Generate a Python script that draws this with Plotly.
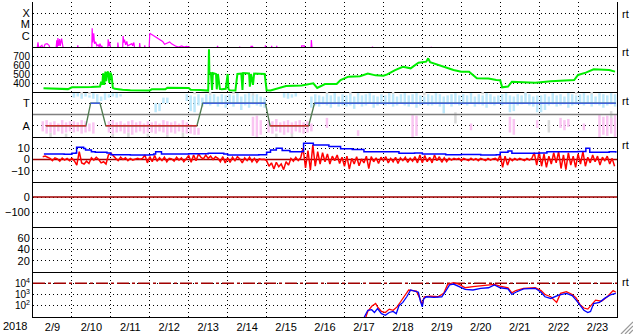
import plotly.graph_objects as go
from plotly.subplots import make_subplots

# ---------------- data (x = days since 2018-02-09 00:00 UT) ----------------
day_labels = ["2/9", "2/10", "2/11", "2/12", "2/13", "2/14", "2/15", "2/16",
              "2/17", "2/18", "2/19", "2/20", "2/21", "2/22", "2/23"]

# GOES X-ray flux, log10(W/m2)
xray_t = [0.10, 0.128, 0.15, 0.18, 0.23, 0.26, 0.31, 0.36, 0.41, 0.46, 0.59, 0.61, 0.625, 0.64, 0.66,
          0.685, 0.70, 0.735, 0.77, 0.80, 1.13, 1.15, 1.17, 1.40, 1.41, 1.43, 1.51, 1.52, 1.535, 1.56,
          1.58, 1.61, 1.64, 1.67, 1.70, 1.72, 1.75, 1.77, 1.80, 1.92, 1.93, 1.95, 1.97, 2.0, 2.17,
          2.18, 2.20, 2.30, 2.315, 2.33, 2.35, 2.38, 2.41, 2.43, 2.54, 2.56, 2.59, 2.62, 2.73, 2.74,
          2.76, 2.86, 2.87, 2.89, 2.98, 3.0, 3.03, 3.08, 3.15, 3.22, 3.28, 3.33, 3.38, 3.44, 3.51,
          3.56, 3.62, 3.68, 3.74, 3.82, 3.88, 3.94, 4.02, 4.08, 4.72, 4.74, 4.76, 5.30, 5.31, 5.32,
          5.58, 5.60, 5.64, 5.66, 5.96, 5.97, 5.99, 6.12, 6.13, 6.14, 6.25, 6.26, 6.27, 6.89, 6.90,
          6.97, 6.98, 7.14, 7.15, 7.17, 8.71, 8.72, 8.73, 10.22, 10.23, 10.25, 15.0]
xray_v = [-7.3, -6.58, -7.2, -7.0, -6.85, -7.2, -6.75, -6.7, -6.85, -7.3, -7.3, -6.4, -7.0, -6.2, -6.9,
          -6.3, -6.9, -6.25, -7.0, -7.3, -7.3, -6.85, -7.3, -7.3, -7.0, -7.3, -7.3, -5.34, -6.6, -5.78,
          -6.7, -6.55, -6.9, -6.8, -7.0, -6.7, -7.0, -6.9, -7.3, -7.3, -6.32, -6.9, -6.55, -7.3, -7.3,
          -6.6, -7.3, -7.3, -6.02, -6.6, -6.35, -6.8, -6.5, -6.9, -6.7, -6.9, -6.6, -7.3, -7.3, -6.65,
          -7.3, -7.3, -6.85, -7.3, -7.3, -5.78, -5.85, -5.95, -6.1, -6.25, -6.38, -6.5, -6.75, -6.65, -6.55,
          -6.72, -6.85, -6.95, -7.0, -6.9, -7.0, -6.95, -7.0, -7.3, -7.3, -6.9, -7.3, -7.3, -6.95, -7.3,
          -7.3, -6.95, -6.95, -7.3, -7.3, -6.85, -7.3, -7.3, -6.9, -7.3, -7.3, -6.9, -7.3, -7.3, -6.9,
          -6.9, -7.3, -7.3, -6.38, -7.3, -7.3, -6.97, -7.3, -7.3, -6.99, -7.3, -7.3]

# Solar wind speed (km/s)
speed_t = [0.27, 0.45, 0.6, 0.9, 1.0, 1.3, 1.5, 1.72, 1.75, 1.78, 1.80, 1.83, 1.86, 1.88, 1.90, 1.93,
           1.96, 1.99, 2.02, 2.05, 2.1, 2.3, 2.5, 3.0, 3.05, 3.4, 3.45, 4.0, 4.05, 4.3, 4.5, 4.52,
           4.53, 4.57, 4.60, 4.62, 4.70, 4.72, 4.75, 4.80, 4.85, 4.95, 5.0, 5.02, 5.05, 5.2, 5.25,
           5.35, 5.38, 5.40, 5.55, 5.57, 5.60, 5.65, 5.68, 5.95, 6.0, 6.1, 6.3, 6.5, 6.9, 7.2, 7.3,
           7.5, 7.8, 7.9, 8.1, 8.4, 8.6, 8.8, 9.0, 9.1, 9.3, 9.5, 9.7, 9.9, 10.1, 10.15, 10.2, 10.4,
           10.8, 11.0, 11.2, 11.4, 11.7, 11.9, 12.0, 12.05, 12.2, 12.3, 12.5, 12.9, 13.3, 13.6, 13.9,
           14.0, 14.2, 14.4, 14.8, 14.95]
speed_v = [341, 338, 330, 332, 352, 350, 355, 360, 414, 380, 508, 378, 526, 420, 508, 526,
           400, 515, 480, 345, 335, 325, 320, 318, 330, 330, 348, 345, 325, 322, 316, 774,
           515, 510, 322, 510, 500, 330, 500, 335, 330, 335, 500, 335, 320, 318, 500,
           505, 322, 510, 505, 360, 500, 380, 505, 500, 320, 318, 340, 367, 372, 396, 345,
           389, 389, 433, 470, 475, 505, 485, 480, 495, 544, 581, 563, 626, 637, 674, 630, 600,
           544, 526, 526, 452, 450, 433, 430, 352, 360, 414, 410, 404, 420, 426, 433,
           489, 515, 552, 545, 526]

# IMF sector: scattered phi measurements, 10 slots per day (hi/lo of each slot)
N = None
toward_hi = [N, N, N, N, N, N, N, N, N, N,
             1.9, 1.9, 1.8, 1.9, 1.7, 1.9, 1.8, 1.6, 1.9, 1.8,
             1.9, 1.9, 1.8, N, N, N, N, N, N, N,
             N, 1.0, 1.0, 1.5, 1.5, N, N, N, N, 1.8,
             1.7, 1.6, 1.8, 1.5, 1.8, 1.7, 1.8, 1.6, 1.8, 1.7,
             1.8, 1.7, 1.9, 1.6, 1.8, 1.9, 1.7, 1.8, 1.6, 1.5,
             N, N, N, N, 1.9, 1.9, 1.8, 1.9, N, N,
             N, 1.6, 1.8, 1.7, 1.6, 1.8, 1.7, 1.9, 1.6, 1.8,
             1.7, 1.8, 1.6, 1.9, 1.7, 1.8, 1.9, 1.7, 1.6, 1.8,
             1.7, 1.9, 1.8, 1.6, 1.8, 1.9, 1.7, 1.8, 1.9, 1.7,
             1.6, 1.8, 1.7, 1.9, 1.8, 1.6, 1.7, 1.8, 1.9, 1.7,
             1.8, 1.7, 1.9, 1.6, 1.8, 1.7, 1.9, 1.8, 1.6, 1.7,
             1.8, 1.9, 1.7, 1.6, 1.8, 1.7, 1.9, 1.8, 1.6, 1.7,
             1.7, 1.8, 1.6, 1.9, 1.7, 1.8, 1.6, 1.9, 1.8, 1.7,
             1.8, 1.9, 1.7, 1.8, 1.6, 1.9, 1.8, 1.7, 1.9, 1.8]
toward_lo = [N, N, N, N, N, N, N, N, N, N,
             1.5, 1.6, 1.4, 1.6, 1.5, 1.4, 1.0, 1.2, 1.3, 1.5,
             1.6, 1.5, 1.6, N, N, N, N, N, N, N,
             N, 0.2, 0.3, 1.0, 1.0, N, N, N, N, 1.2,
             0.3, 0.2, 0.8, 0.7, 0.9, 0.8, 1.0, 0.7, 0.9, 0.6,
             0.9, 0.7, 1.0, 0.4, 0.8, 0.6, 0.9, 0.8, 0.7, 0.6,
             N, N, N, N, 1.5, 1.4, 1.5, 1.6, N, N,
             N, 0.6, 0.8, 0.7, 0.9, 0.8, 0.6, 0.9, 0.7, 0.8,
             0.7, 0.8, 0.5, 0.9, 0.7, 0.8, 1.0, 0.6, 0.8, 0.9,
             0.8, 0.9, 0.7, 0.8, 1.0, 0.8, 0.7, 0.9, 0.6, 0.8,
             0.9, 0.8, 0.8, 0.9, 0.7, 0.1, 0.9, 0.7, 0.9, 0.8,
             0.9, 0.8, 1.0, 0.7, 0.9, 0.8, 0.6, 0.9, 0.8, 1.0,
             0.8, 0.9, 0.2, 0.3, 0.8, 0.9, 1.0, 0.8, 0.7, 0.2,
             0.2, 0.4, 0.8, 0.9, 0.7, 0.8, 0.9, 0.6, 0.8, 0.9,
             0.9, 0.8, 1.0, 0.7, 0.9, 0.8, 0.6, 0.8, 0.9, 0.7]
away_hi = [N, N, -0.6, -0.5, -0.7, -0.6, -0.8, -0.5, -0.7, -0.6,
           -0.6, -0.7, -0.5, -0.6, -0.8, -0.7, N, N, N, -0.6,
           -0.5, -0.7, -0.6, -0.8, -0.6, -0.5, -0.7, -0.6, -0.8, -0.6,
           -0.7, -0.6, -0.8, -0.5, -0.6, -0.7, -0.6, -0.8, -0.5, -0.7,
           -0.9, -1.0, -1.2, N, N, N, N, N, N, N,
           N, N, N, N, N, N, -0.2, -0.1, -0.5, N,
           -0.5, -0.6, -0.4, -0.7, -0.6, -0.5, -0.7, -0.6, -0.5, -0.7,
           -0.6, -0.8, N, N, N, -0.3, N, N, N, N,
           N, N, N, -1.4, N, N, N, N, N, N,
           N, N, N, N, N, N, N, -0.05, -0.1, N,
           N, N, N, N, N, N, N, N, N, N,
           N, N, -0.8, N, N, N, N, N, N, N,
           N, N, -0.2, -0.4, N, N, N, N, N, -0.5,
           N, N, N, N, N, -0.3, -0.5, -0.4, N, N,
           N, -0.8, N, N, N, -0.05, -0.2, -0.1, -0.3, -0.05]
away_lo = [N, N, -1.5, -1.7, -1.6, -1.8, -1.5, -1.7, -1.6, -1.5,
           -1.6, -1.5, -1.7, -1.6, -1.5, -1.7, N, N, N, -1.6,
           -1.7, -1.6, -1.5, -1.7, -1.6, -1.8, -1.6, -1.5, -1.7, -1.6,
           -1.6, -1.7, -1.5, -1.6, -1.8, -1.6, -1.7, -1.5, -1.6, -1.7,
           -1.7, -1.8, -1.8, N, N, N, N, N, N, N,
           N, N, N, N, N, N, -1.9, -2.0, -1.8, N,
           -1.6, -1.7, -1.5, -1.6, -1.8, -1.6, -1.7, -1.5, -1.6, -1.7,
           -1.6, -1.5, N, N, N, -1.2, N, N, N, N,
           N, N, N, -1.9, N, N, N, N, N, N,
           N, N, N, N, N, N, N, -2.0, -1.9, N,
           N, N, N, N, N, N, N, N, N, N,
           N, N, -1.4, N, N, N, N, N, N, N,
           N, N, -1.6, -1.8, N, N, N, N, N, -1.2,
           N, N, N, N, N, -1.2, -1.4, -1.1, N, N,
           N, -1.4, N, N, N, -2.0, -1.8, -1.9, -1.7, -2.0]
grey_t = [0.45, 0.85, 1.25, 1.45, 2.05, 2.45, 2.95, 3.45, 3.85, 4.15, 4.55, 5.15, 5.65, 6.25,
          6.65, 7.55, 8.15, 9.25, 10.05, 10.85, 11.55, 12.65, 13.25, 13.95, 14.35, 14.85]
grey_hi = [-1.6, -1.7, 2.0, 2.0, -1.7, -1.6, -1.7, -1.8, -1.6, 2.0, 2.0, 2.0, 1.9, -1.7,
           -1.6, 2.0, 2.0, 2.0, 2.0, 0.2, 2.0, 2.0, -0.5, 2.0, 2.0, 0.3]
grey_lo = [-2.0, -2.0, 1.7, 1.8, -2.0, -2.0, -2.0, -2.0, -2.0, 1.8, 1.7, 1.8, 1.6, -2.0,
           -2.0, 1.8, 1.7, 1.8, 1.7, -0.8, 1.8, 1.7, -1.6, 1.8, 1.7, -1.0]
# sector model (T = +1, A = -1)
sector_t = [0.33, 1.36, 1.48, 1.72, 1.87, 4.21, 4.36, 5.97, 6.09, 7.08, 7.23, 14.97]
sector_v = [-1, -1, 1, 1, -1, -1, 1, 1, -1, -1, 1, 1]

# IMF Bt (nT)
bt_t = [0.28, 0.8, 1.0, 1.1, 1.12, 1.3, 1.35, 1.5, 1.6, 1.9, 2.0, 2.5, 3.0, 3.1, 3.15, 3.3,
        3.8, 4.0, 4.5, 4.9, 5.0, 5.8, 6.0, 6.1, 6.25, 6.4, 6.6, 6.9, 6.95, 7.2, 7.6, 7.9, 8.2,
        8.5, 9.2, 9.4, 9.8, 10.0, 10.6, 11.0, 11.5, 11.9, 12.0, 12.2, 12.3, 13.0, 13.2, 14.0,
        14.2, 14.3, 14.8, 14.97]
bt_v = [4.9, 4.6, 5.5, 5.8, 10.8, 9.8, 8.5, 7.0, 6.5, 5.8, 4.2, 4.0, 4.2, 5.0, 6.8, 5.0,
        4.8, 5.2, 5.5, 4.8, 4.0, 4.2, 6.5, 8.5, 10.0, 8.0, 7.0, 7.2, 14.4, 13.0, 11.5, 9.5, 9.0,
        7.0, 6.8, 5.5, 5.8, 5.0, 4.2, 4.5, 4.0, 4.2, 6.5, 7.5, 5.5, 5.8, 7.0, 7.2,
        10.0, 6.5, 7.0, 6.0]

# IMF Bz (nT), 16 samples per day
bz_rows = [
    [N, N, N, N, 2.5, 3.0, 2.0, 1.0, -1.0, 1.5, 0.5, -1.5, 1.2, -0.5, 1.0, -1.0],
    [1.0, -1.2, -5.0, 7.0, -3.0, -4.0, -1.5, -3.5, 1.5, -0.5, 2.0, 0.0, -3.0, -2.0, -4.0, 4.0],
    [5.5, 3.0, 1.0, -1.0, 2.0, 0.0, 1.5, -1.0, 1.0, -0.5, 0.5, 1.0, 0.3, 1.0, 4.0, -3.0],
    [2.5, -2.0, 3.5, -1.5, 1.5, -1.0, 2.0, -2.0, 1.0, 0.5, -1.5, 2.0, -0.5, 1.5, -2.0, 0.5],
    [3.5, -2.5, 4.0, -1.0, 5.0, 2.0, 0.5, 4.0, 1.0, 3.0, 0.0, 2.5, 1.0, -2.0, 2.5, -3.0],
    [1.5, -2.5, 2.0, -1.0, 2.5, 0.5, -3.0, 1.5, -1.0, 2.0, -2.0, 1.0, -2.5, 0.5, 0.0, 0.2],
    [-1.0, -6.0, -3.0, -8.5, -2.5, -6.5, -4.0, -9.0, -2.0, -5.0, 1.0, -1.5, 2.0, -1.0, 1.5, 10.0],
    [-7.5, 8.0, -9.5, 13.0, -6.0, 7.0, -4.0, 6.0, -2.0, 5.0, -4.0, 3.0, -1.0, 4.0, -3.5, 2.0],
    [-6.0, 3.0, -8.5, 1.0, -4.0, 2.5, -5.5, 0.5, -3.0, 3.0, -8.0, 2.5, -2.0, 1.5, -3.5, 2.0],
    [-1.0, 2.5, -3.0, 1.0, -2.0, 2.0, -3.5, 1.5, -1.0, 2.0, -2.5, 1.0, -1.5, 2.5, -3.0, 4.0],
    [-3.0, 3.5, -2.0, 2.0, -3.0, 4.0, -1.0, 2.5, -2.5, 1.5, -2.0, 1.0, -0.5, 1.0, 0.0, 1.0],
    [-1.0, 1.0, 0.0, -1.0, 1.2, -0.5, 0.8, -1.0, 1.0, 0.0, -1.0, 1.0, -0.5, 0.5, 1.0, -1.0],
    [4.0, -7.0, 3.0, -5.0, 1.0, -1.0, 1.0, -0.5, 1.0, 0.0, -1.0, 1.0, -0.5, 1.0, 6.0, -5.0],
    [7.0, -6.0, 5.0, -7.0, 3.0, -4.0, 6.0, -3.0, 7.0, -8.0, 4.0, -9.0, 6.0, -5.0, 3.0, -7.0],
    [5.0, -4.0, 7.0, -6.0, 2.0, -3.0, 4.0, -2.0, 3.0, -5.0, 2.0, -1.0, 3.0, -4.0, 1.0, -6.0],
]

# GOES >2 MeV electron flux, log10
eb_t = [8.51, 8.6, 8.7, 8.77, 8.85, 8.95, 9.05, 9.15, 9.25, 9.33, 9.4, 9.5, 9.6, 9.7, 9.8, 9.9,
        9.95, 10.0, 10.03, 10.1, 10.3, 10.5, 10.6, 10.7, 10.8, 10.95, 11.1, 11.3, 11.5, 11.7,
        11.85, 12.0, 12.2, 12.3, 12.4, 12.6, 12.9, 13.05, 13.15, 13.3, 13.5, 13.7, 13.85, 13.95,
        14.05, 14.15, 14.25, 14.32, 14.4, 14.55, 14.7, 14.85, 14.97]
eb_v = [1.0, 1.6, 1.65, 1.4, 1.75, 1.3, 1.15, 1.4, 1.5, 1.3, 2.0, 2.3, 2.8, 3.4, 3.3, 3.2,
        2.4, 1.9, 2.6, 2.8, 2.75, 2.8, 3.3, 3.85, 3.93, 3.7, 3.45, 3.4, 3.55, 3.6,
        3.85, 3.6, 3.5, 3.0, 3.2, 3.5, 3.55, 3.2, 2.8, 2.65, 2.95, 3.1, 2.9, 2.5,
        2.0, 1.6, 1.4, 1.5, 2.2, 2.3, 2.7, 3.0, 3.1]
er_t = [8.55, 8.6, 8.7, 8.8, 8.85, 8.95, 9.05, 9.15, 9.25, 9.35, 9.45, 9.55, 9.65, 9.75, 9.85,
        9.93, 10.0, 10.05, 10.2, 10.4, 10.55, 10.65, 10.8, 10.95, 11.1, 11.3, 11.5, 11.7, 11.85,
        12.0, 12.2, 12.3, 12.4, 12.6, 12.9, 13.05, 13.15, 13.3, 13.45, 13.55, 13.7, 13.85, 13.95,
        14.05, 14.15, 14.25, 14.35, 14.45, 14.6, 14.75, 14.9, 14.97]
er_v = [1.0, 1.5, 1.95, 2.2, 1.9, 1.5, 1.4, 1.7, 1.6, 1.9, 2.4, 2.9, 3.4, 3.35, 3.3,
        2.7, 2.1, 2.8, 2.85, 2.8, 3.1, 3.9, 4.05, 3.9, 3.6, 3.7, 3.75, 3.85, 3.9,
        3.75, 3.6, 3.15, 3.35, 3.55, 3.6, 3.35, 3.0, 2.8, 2.3, 3.1, 3.25, 3.0, 2.7,
        2.1, 1.8, 1.7, 2.1, 2.5, 2.4, 2.8, 3.35, 3.2]

# ---------------- figure ----------------
FONT = "Liberation Sans, Arial, sans-serif"
fig = make_subplots(rows=7, cols=1, shared_xaxes=True, vertical_spacing=0)

fig.add_trace(go.Scatter(x=xray_t, y=xray_v, mode="lines",
                         line=dict(color="#ff00ff", width=1.2)), row=1, col=1)
fig.add_trace(go.Scatter(x=speed_t, y=speed_v, mode="lines",
                         line=dict(color="#00ee00", width=2)), row=2, col=1)


def slot_segments(hi, lo):
    xs, ys = [], []
    for i, (h, l) in enumerate(zip(hi, lo)):
        if h is None or l is None:
            continue
        t = i // 10 + (i % 10 + 0.5) / 10.0
        xs += [t, t, None]
        ys += [h, l, None]
    return xs, ys


gx, gy = [], []
for t, h, l in zip(grey_t, grey_hi, grey_lo):
    gx += [t, t, None]
    gy += [h, l, None]
fig.add_trace(go.Scatter(x=gx, y=gy, mode="lines", line=dict(color="#dadada", width=2.5)), row=3, col=1)
tx, ty = slot_segments(toward_hi, toward_lo)
fig.add_trace(go.Scatter(x=tx, y=ty, mode="lines", line=dict(color="#bde8fb", width=2.5)), row=3, col=1)
ax_, ay_ = slot_segments(away_hi, away_lo)
fig.add_trace(go.Scatter(x=ax_, y=ay_, mode="lines", line=dict(color="#fac4f2", width=2.5)), row=3, col=1)
fig.add_trace(go.Scatter(x=[0, 15], y=[0, 0], mode="lines",
                         line=dict(color="#808080", width=1.5)), row=3, col=1)
fig.add_trace(go.Scatter(x=sector_t, y=sector_v, mode="lines",
                         line=dict(color="#4f7a4f", width=1.3)), row=3, col=1)
for sign, col in ((1, "#4060e0"), (-1, "#d03030")):
    sx, sy = [], []
    for i in range(len(sector_t) - 1):
        if sector_v[i] == sign and sector_v[i + 1] == sign:
            sx += [sector_t[i], sector_t[i + 1], None]
            sy += [sign, sign, None]
    fig.add_trace(go.Scatter(x=sx, y=sy, mode="lines", line=dict(color=col, width=1.5)), row=3, col=1)

fig.add_trace(go.Scatter(x=[0, 15], y=[0, 0], mode="lines",
                         line=dict(color="#a00000", width=1.5)), row=4, col=1)
bz_t, bz_v = [], []
for d, row in enumerate(bz_rows):
    for k, v in enumerate(row):
        if v is not None:
            bz_t.append(d + k / 16.0)
            bz_v.append(v)
fig.add_trace(go.Scatter(x=bz_t, y=bz_v, mode="lines", line=dict(color="#ff0000", width=1.5)), row=4, col=1)
fig.add_trace(go.Scatter(x=bt_t, y=bt_v, mode="lines", line_shape="hv",
                         line=dict(color="#0000ff", width=1.5)), row=4, col=1)

# Dst panel: reference zero line only (no data)
fig.add_trace(go.Scatter(x=[0, 15], y=[0, 0], mode="lines",
                         line=dict(color="#a00000", width=1.5)), row=5, col=1)
# empty panel 6 (keeps the axes drawn)
fig.add_trace(go.Scatter(x=[None], y=[None], mode="lines"), row=6, col=1)

fig.add_trace(go.Scatter(x=[0, 15], y=[4, 4], mode="lines",
                         line=dict(color="#a00000", width=1.5, dash="12px,3px,3px,3px")), row=7, col=1)
fig.add_trace(go.Scatter(x=er_t, y=er_v, mode="lines", line=dict(color="#ff0000", width=1.3)), row=7, col=1)
fig.add_trace(go.Scatter(x=eb_t, y=eb_v, mode="lines", line=dict(color="#0000ff", width=1.3)), row=7, col=1)

# ---------------- axes ----------------
ycfg = [
    dict(range=[-7, -3], tickvals=[-6, -5, -4], ticktext=["C", "M", "X"]),
    dict(range=[300, 800], tickvals=[400, 500, 600, 700]),
    dict(range=[-2, 2], tickvals=[-1, 1], ticktext=["A", "T"]),
    dict(range=[-20, 20], tickvals=[-10, 0, 10]),
    dict(range=[-200, 100], tickvals=[-100, 0]),
    dict(range=[0, 80], tickvals=[20, 40, 60]),
    dict(range=[1, 5], tickvals=[2, 3, 4], ticktext=["10<sup>2</sup>", "10<sup>3</sup>", "10<sup>4</sup>"]),
]
for i, c in enumerate(ycfg, start=1):
    fig.update_yaxes(row=i, col=1, showline=True, linecolor="black", linewidth=1, mirror=True,
                     showgrid=True, gridcolor="black", griddash="1px,3px", gridwidth=1,
                     zeroline=False, ticks="", fixedrange=True,
                     tickfont=dict(family=FONT, size=11, color="black"), **c)
fig.update_yaxes(row=2, col=1, tickfont=dict(family=FONT, size=10, color="black"))
fig.update_yaxes(row=7, col=1, tickfont=dict(family=FONT, size=10, color="black"))

noon = [d + 0.5 for d in range(15)]
fig.update_xaxes(range=[0, 15], showline=True, linecolor="black", linewidth=1, mirror=False,
                 showgrid=False, zeroline=False, ticks="", tickvals=noon, ticktext=day_labels,
                 tickfont=dict(family=FONT, size=11, color="black"),
                 minor=dict(tickvals=list(range(1, 15)), showgrid=True, gridcolor="black",
                            griddash="1px,3px", gridwidth=1, ticks=""))

ann = [dict(xref="paper", yref="paper", x=0, y=0, xshift=-18, yshift=-9, text="2018",
            showarrow=False, xanchor="center", yanchor="middle",
            font=dict(family=FONT, size=11, color="black"))]
for yr, yv in (("y", -4.1), ("y2", 740), ("y3", 1.2), ("y4", 13), ("y7", 4.15)):
    ann.append(dict(xref="paper", yref=yr, x=1, y=yv, xshift=3, text="rt", showarrow=False,
                    xanchor="left", yanchor="middle", font=dict(family=FONT, size=11, color="black")))

# window resize grip in the bottom-right corner (decoration)
PW, PH = 584.0, 315.0
grip = []
for off in (0, 4, 8):
    x0 = 1 + (621 + off - 617) / PW
    x1 = 1 + (633 - 617) / PW
    y0 = -(334 - 317) / PH
    y1 = -(322 + off - 317) / PH
    grip.append(dict(type="line", xref="paper", yref="paper", x0=x0, y0=y0, x1=x1, y1=y1,
                     line=dict(color="#999999", width=1.2)))

fig.update_layout(width=633, height=334, margin=dict(l=33, r=16, t=2, b=17),
                  plot_bgcolor="white", paper_bgcolor="white", showlegend=False,
                  annotations=ann, shapes=grip)
fig.write_html("out.html")
